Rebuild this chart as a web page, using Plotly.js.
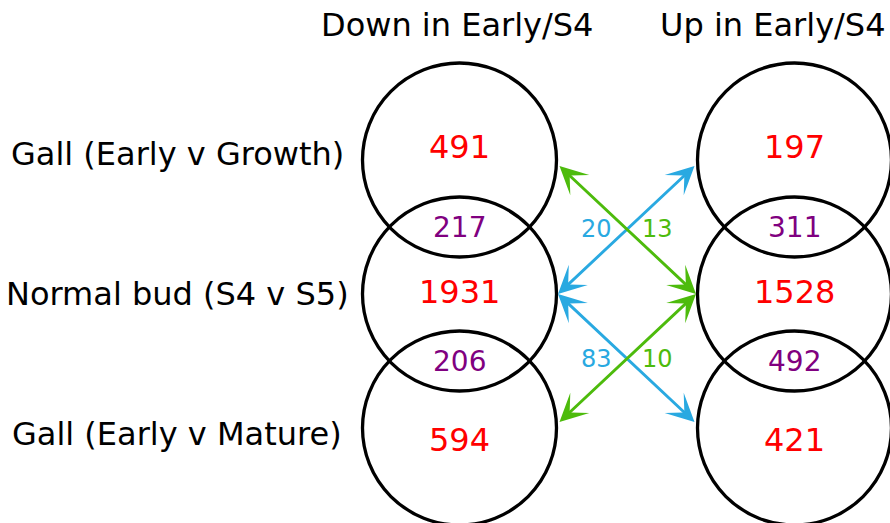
<!DOCTYPE html>
<html><head><meta charset="utf-8">
<script src="https://cdn.plot.ly/plotly-3.0.1.min.js"></script>
<style>html,body{margin:0;padding:0;background:#fff}</style>
</head><body><div id="chart" style="width:890px;height:523px"></div>
<script>
// ---- data ----
const columnTitles = ["Down in Early/S4", "Up in Early/S4"];
const rowLabels = ["Gall (Early v Growth)", "Normal bud (S4 v S5)", "Gall (Early v Mature)"];
const downUnique = [491, 1931, 594];
const upUnique = [197, 1528, 421];
const downOverlap = [217, 206];   // rows 0-1, rows 1-2
const upOverlap = [311, 492];
const crossGallRows = [0, 2];     // gall comparison row compared with Normal bud (row 1)
const crossUpGallDownNormal = [20, 83];  // blue arrows
const crossDownGallUpNormal = [13, 10];  // green arrows

// ---- layout helpers ----
const PX = 134;                   // pixels per data unit (both axes)
const colX = [0, 2.5];
const rowY = j => 1 - j;
const R = 97 / PX;                // circle radius
const RA = 98.5 / PX;             // arrow end distance from column centre
const arrowY = j => rowY(j) * 0.965;
const uniqueShift = [0.097, 0.012, -0.092];
const labelY = j => rowY(j) * 1.045;
const BLUE = "#29A9E1", GREEN = "#4DBB0C", RED = "#FF0000", PURPLE = "#800080";
const FONT = "DejaVu Sans";

const shapes = [];
const annotations = [];
colX.forEach(cx => {
  rowLabels.forEach((_, j) => {
    const cy = rowY(j);
    shapes.push({type: "circle", xref: "x", yref: "y", x0: cx - R, x1: cx + R, y0: cy - R, y1: cy + R,
      line: {color: "#000", width: 3.3}, fillcolor: "rgba(0,0,0,0)"});
  });
});
function txt(x, y, text, size, color, extra) {
  annotations.push(Object.assign({x, y, xref: "x", yref: "y", text: String(text), showarrow: false,
    xanchor: "center", yanchor: "middle", font: {family: FONT, size, color}}, extra || {}));
}
// column titles
txt(colX[0], 2.005, columnTitles[0], 32, "#000", {xshift: -3});
annotations.push({x: 1, y: 2.005, xref: "paper", yref: "y", xanchor: "right", yanchor: "middle",
  xshift: -2, text: columnTitles[1], showarrow: false, font: {family: FONT, size: 32, color: "#000"}});
// row labels
rowLabels.forEach((l, j) => txt(-2.105, labelY(j), l, 32, "#000"));
// unique counts
downUnique.forEach((v, j) => txt(colX[0], rowY(j) + uniqueShift[j], v, 32, RED));
upUnique.forEach((v, j) => txt(colX[1], rowY(j) + uniqueShift[j], v, 32, RED));
// overlap counts
downOverlap.forEach((v, k) => txt(colX[0], (rowY(k) + rowY(k + 1)) / 2, v, 28, PURPLE));
upOverlap.forEach((v, k) => txt(colX[1], (rowY(k) + rowY(k + 1)) / 2, v, 28, PURPLE));
// cross arrows
function arrow(x0, y0, x1, y1, color) {
  annotations.push({x: x1, y: y1, ax: x0, ay: y0, xref: "x", yref: "y", axref: "x", ayref: "y",
    text: "", showarrow: true, arrowside: "end+start", arrowhead: 3, startarrowhead: 3,
    arrowsize: 1.6, startarrowsize: 1.6, arrowwidth: 2.9, arrowcolor: color, standoff: 0, startstandoff: 0});
}
const xm = (colX[0] + colX[1]) / 2;
crossGallRows.forEach((g, k) => {
  // blue: Up in gall  <-> Down in normal bud
  arrow(colX[1] - RA, arrowY(g), colX[0] + RA, arrowY(1), BLUE);
  // green: Down in gall <-> Up in normal bud
  arrow(colX[0] + RA, arrowY(g), colX[1] - RA, arrowY(1), GREEN);
  const ym = (arrowY(g) + arrowY(1)) / 2;
  txt(xm - 0.231, ym, crossUpGallDownNormal[k], 24, BLUE);
  txt(xm + 0.231, ym, crossDownGallUpNormal[k], 24, GREEN);
});

const layout = {
  width: 890, height: 523, margin: {l: 0, r: 0, t: 0, b: 0},
  paper_bgcolor: "#fff", plot_bgcolor: "#fff", showlegend: false,
  xaxis: {range: [-459.5 / PX, (890 - 459.5) / PX], visible: false, fixedrange: true},
  yaxis: {range: [(294 - 523) / PX, 294 / PX], visible: false, fixedrange: true},
  shapes, annotations, font: {family: FONT}
};
Plotly.newPlot("chart", [{x: [], y: [], type: "scatter", mode: "markers", hoverinfo: "skip"}], layout,
  {staticPlot: true, displayModeBar: false});
</script></body></html>
